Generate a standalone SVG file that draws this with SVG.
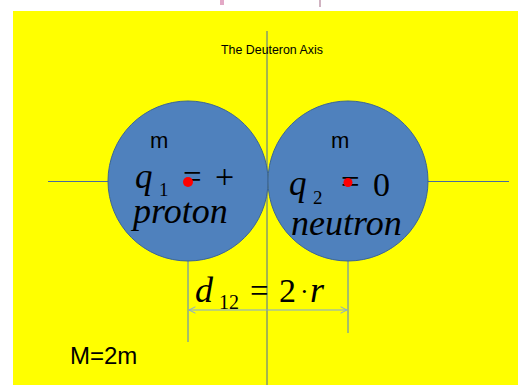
<svg xmlns="http://www.w3.org/2000/svg" width="518" height="385" viewBox="0 0 518 385">
<style>
.sans{font-family:"Liberation Sans",Arial,sans-serif;fill:#000}
.math{font-family:"Liberation Serif","Times New Roman",serif;fill:#000}
.it{font-style:italic}
.up{font-style:normal}
.ball{fill:#4f81bd;stroke:#3a6496;stroke-width:1}
.axis{stroke:#4a6b9c;stroke-width:1;fill:none}
.dim{stroke:#4f7fd0;stroke-width:1;fill:none}
.dot{fill:#ff0000}
</style>
<defs>
<marker id="ah" viewBox="0 0 10 10" refX="9" refY="5" markerWidth="8" markerHeight="8" orient="auto-start-reverse" markerUnits="userSpaceOnUse">
<path d="M1,1 L9,5 L1,9" fill="none" stroke="#7fa6dc" stroke-width="1.2"/>
</marker>
</defs>
<rect x="0" y="0" width="518" height="385" fill="#ffffff"/>
<rect x="220" y="0" width="4" height="5" fill="#d070a0" opacity="0.6"/>
<rect x="319" y="0" width="2" height="7" fill="#b08098" opacity="0.6"/>
<rect x="13" y="11" width="505" height="374" fill="#ffff00"/>
<g id="connectors">
<line class="axis" x1="267" y1="31" x2="267" y2="385"/>
<line class="axis" x1="48" y1="181.5" x2="509" y2="181.5"/>
<line class="dim" x1="188" y1="258" x2="188" y2="342"/>
<line class="dim" x1="348" y1="258" x2="348" y2="333"/>
<line x1="189" y1="310" x2="347" y2="310" stroke="#7fa6dc" stroke-width="1.2" marker-start="url(#ah)" marker-end="url(#ah)"/>
</g>
<g id="proton">
<circle class="ball" cx="188" cy="181" r="80"/>
<text class="sans" x="150" y="148" font-size="22">m</text>
<text class="math"><tspan class="it" x="135" y="188" font-size="35">q</tspan><tspan class="up" x="159" y="196" font-size="19">1</tspan><tspan class="up" x="183" y="188" font-size="33">=</tspan><tspan class="up" x="215" y="188" font-size="34">+</tspan><tspan class="it" x="133" y="223" font-size="36">proton</tspan></text>
<circle class="dot" cx="188" cy="182" r="5"/>
</g>
<g id="neutron">
<circle class="ball" cx="348" cy="181" r="80"/>
<text class="sans" x="331" y="148" font-size="22">m</text>
<text class="math"><tspan class="it" x="289" y="195" font-size="35">q</tspan><tspan class="up" x="313" y="204" font-size="19">2</tspan><tspan class="up" x="341" y="192.5" font-size="33">=</tspan><tspan class="up" x="373" y="196" font-size="34">0</tspan><tspan class="it" x="291" y="235" font-size="36">neutron</tspan></text>
<circle class="dot" cx="348" cy="182.5" r="4.5"/>
</g>
<g id="axis-label">
<text class="sans" x="221" y="54" font-size="12.4">The Deuteron Axis</text>
</g>
<g id="distance-label">
<text class="math"><tspan class="it" x="195" y="302" font-size="36">d</tspan><tspan class="up" x="219" y="309" font-size="20">12</tspan><tspan class="up" x="250" y="302" font-size="33">=</tspan><tspan class="up" x="279" y="302" font-size="34">2</tspan><tspan class="up" x="300" y="300" font-size="26">·</tspan><tspan class="it" x="310" y="302" font-size="36">r</tspan></text>
</g>
<g id="mass-label">
<text class="sans" x="70" y="364" font-size="24">M=2m</text>
</g>
</svg>
